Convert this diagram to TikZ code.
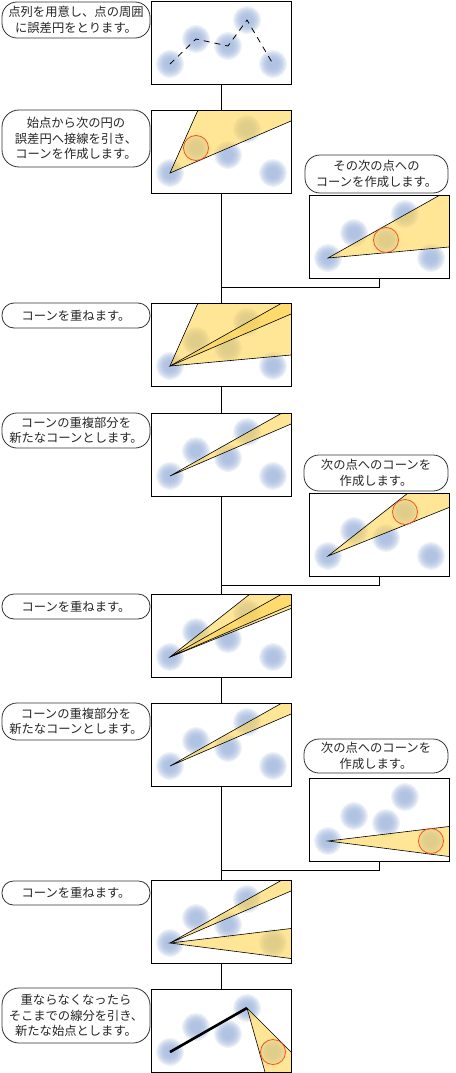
\documentclass[tikz,border=0pt]{standalone}
\usepackage{fontspec}
\newfontfamily\jp{Noto Sans CJK JP}
\definecolor{errc}{RGB}{165,186,224}
\definecolor{conecol}{RGB}{255,212,80}
\definecolor{redc}{RGB}{245,85,30}
\tikzset{
 panelbox/.style={fill=white, minimum width=140pt, minimum height=83pt, inner sep=0pt, outer sep=0pt},
 panelborder/.style={draw=black, line width=0.8pt},
 errlayer/.style={fill=errc, fill opacity=0.17},
 conefill/.style={fill=conecol, fill opacity=0.6},
 coneedge/.style={draw=black, line width=0.6pt},
 redcircle/.style={draw=redc, line width=0.8pt},
 bubble/.style={draw=black!80, line width=0.8pt, fill=white, inner sep=0pt, align=center, font=\jp\fontsize{12.3}{15.5}\selectfont, text=black!85},
 link/.style={draw=black, line width=0.8pt},
 thickseg/.style={draw=black, line width=2.6pt},
 dashpath/.style={draw=black, line width=0.8pt, dash pattern=on 6pt off 5pt},
}
\newcommand\defpts{%
 \coordinate (P1) at (19,63); \coordinate (P2) at (45,38); \coordinate (P3) at (77,45);
 \coordinate (P4) at (96,19); \coordinate (P5) at (122,63);
 \coordinate (TR) at (140,0); \coordinate (BR) at (140,83);
 \coordinate (U1) at (47,0); \coordinate (L1) at (140,11);
 \coordinate (U2) at (131,0); \coordinate (L2) at (140,52);
 \coordinate (U3) at (99,0); \coordinate (L3) at (140,14.5);
 \coordinate (U4) at (140,48.5); \coordinate (L4) at (140,78.5);
 \coordinate (V5) at (114,83); \coordinate (W5) at (140,63);
}
\newcommand\errcircles{%
 \foreach \q in {P1,P2,P3,P4,P5}{%
  \foreach \r in {14,13,...,5}{\fill[errlayer] (\q) circle (\r pt);}}%
}
\newcommand\mypanel[4]{%
 \node[panelbox] (#1) at (#2+70,#3+41.5) {};
 \begin{scope}[shift={(#2,#3)}]
  \defpts
  \clip (0,0) rectangle (140,83);
  \errcircles
  #4
 \end{scope}
 \draw[panelborder] (#1.north west) rectangle (#1.south east);
}
\newcommand\conea{\fill[conefill] (P1) -- (U1) -- (TR) -- (L1) -- cycle;}
\newcommand\coneb{\fill[conefill] (P1) -- (U2) -- (TR) -- (L2) -- cycle;}
\newcommand\coneab{\fill[conefill] (P1) -- (U2) -- (TR) -- (L1) -- cycle;}
\newcommand\conec{\fill[conefill] (P1) -- (U3) -- (TR) -- (L3) -- cycle;}
\newcommand\coned{\fill[conefill] (P1) -- (U4) -- (L4) -- cycle;}
\begin{document}
\begin{tikzpicture}[x=1pt,y=-1pt]
\useasboundingbox[fill=white] (0,0) rectangle (455,1073);

% ---------- main panels ----------
\mypanel{m1}{151}{1}{%
 \draw[dashpath] (P1) -- (P2) -- (P3) -- (P4) -- (P5);}
\mypanel{m2}{151}{110}{%
 \conea \draw[coneedge] (U1) -- (P1) -- (L1);
 \draw[redcircle] (P2) circle (12.5pt);}
\mypanel{m3}{151}{303}{%
 \conea \coneb
 \draw[coneedge] (U1) -- (P1) -- (L1);
 \draw[coneedge] (U2) -- (P1) -- (L2);}
\mypanel{m4}{151}{413}{%
 \coneab \draw[coneedge] (U2) -- (P1) -- (L1);}
\mypanel{m5}{151}{594}{%
 \coneab \conec
 \draw[coneedge] (U2) -- (P1) -- (L1);
 \draw[coneedge] (U3) -- (P1) -- (L3);}
\mypanel{m6}{151}{703}{%
 \coneab \draw[coneedge] (U2) -- (P1) -- (L1);}
\mypanel{m7}{151}{880}{%
 \coneab \coned
 \draw[coneedge] (U2) -- (P1) -- (L1);
 \draw[coneedge] (U4) -- (P1) -- (L4);}
\mypanel{m8}{151}{989}{%
 \draw[thickseg] (P1) -- (P4);
 \fill[conefill] (P4) -- (V5) -- (BR) -- (W5) -- cycle;
 \draw[coneedge] (V5) -- (P4) -- (W5);
 \draw[redcircle] (P5) circle (12.5pt);}

% ---------- side panels ----------
\mypanel{sA}{309}{195}{%
 \coneb \draw[coneedge] (U2) -- (P1) -- (L2);
 \draw[redcircle] (P3) circle (12.5pt);}
\mypanel{sB}{309}{493}{%
 \conec \draw[coneedge] (U3) -- (P1) -- (L3);
 \draw[redcircle] (P4) circle (12.5pt);}
\mypanel{sC}{309}{778}{%
 \coned \draw[coneedge] (U4) -- (P1) -- (L4);
 \draw[redcircle] (P5) circle (12.5pt);}

% ---------- connectors ----------
\coordinate (jA) at (221,287);
\coordinate (jB) at (221,585);
\coordinate (jC) at (221,870);
\draw[link] (m1.south) -- (m2.north);
\draw[link] (m2.south) -- (m3.north);
\draw[link] (m3.south) -- (m4.north);
\draw[link] (m4.south) -- (m5.north);
\draw[link] (m5.south) -- (m6.north);
\draw[link] (m6.south) -- (m7.north);
\draw[link] (m7.south) -- (m8.north);
\draw[link] (sA.south) |- (jA);
\draw[link] (sB.south) |- (jB);
\draw[link] (sC.south) |- (jC);

% ---------- bubbles ----------
\node[bubble, minimum width=148pt, minimum height=36pt, rounded corners=15pt] (b1) at (76,20) {点列を用意し、点の周囲\\に誤差円をとります。};
\node[bubble, minimum width=148pt, minimum height=57pt, rounded corners=17pt] (b2) at (76,138.5) {始点から次の円の\\誤差円へ接線を引き、\\コーンを作成します。};
\node[bubble, minimum width=148pt, minimum height=25pt, rounded corners=12pt] (b3) at (76,315.5) {コーンを重ねます。};
\node[bubble, minimum width=148pt, minimum height=35pt, rounded corners=15pt] (b4) at (76,430.5) {コーンの重複部分を\\新たなコーンとします。};
\node[bubble, minimum width=148pt, minimum height=25pt, rounded corners=12pt] (b5) at (76,606.5) {コーンを重ねます。};
\node[bubble, minimum width=148pt, minimum height=37pt, rounded corners=15pt] (b6) at (76,721.5) {コーンの重複部分を\\新たなコーンとします。};
\node[bubble, minimum width=148pt, minimum height=24pt, rounded corners=11.5pt] (b7) at (76,893) {コーンを重ねます。};
\node[bubble, minimum width=148pt, minimum height=55pt, rounded corners=17pt] (b8) at (76,1015.5) {重ならなくなったら\\そこまでの線分を引き、\\新たな始点とします。};
\node[bubble, minimum width=143pt, minimum height=38pt, rounded corners=15pt] (bA) at (376.5,174) {その次の点への\\コーンを作成します。};
\node[bubble, minimum width=144pt, minimum height=36pt, rounded corners=15pt] (bB) at (376,473) {次の点へのコーンを\\作成します。};
\node[bubble, minimum width=144pt, minimum height=34pt, rounded corners=15pt] (bC) at (376,756) {次の点へのコーンを\\作成します。};
\end{tikzpicture}
\end{document}
